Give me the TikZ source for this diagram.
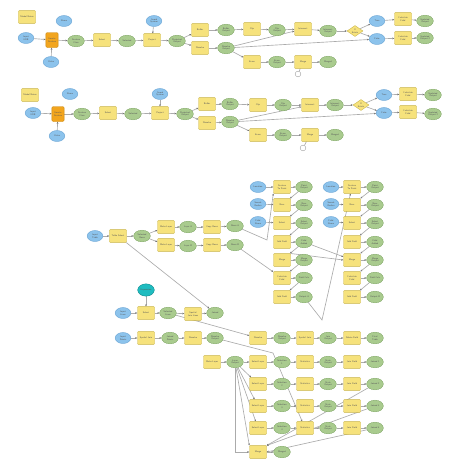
\documentclass[tikz,border=0pt]{standalone}
\usepackage{tikz}
\usetikzlibrary{shapes,arrows.meta,positioning,backgrounds}

\definecolor{toolfill}{HTML}{F6E27C}
\definecolor{toolline}{HTML}{C8B347}
\definecolor{datafill}{HTML}{A9CB8E}
\definecolor{dataline}{HTML}{7EA563}
\definecolor{inputfill}{HTML}{8CC3EC}
\definecolor{inputline}{HTML}{5F9DD0}
\definecolor{iterfill}{HTML}{F2A51E}
\definecolor{iterline}{HTML}{C7850E}
\definecolor{paramfill}{HTML}{1FBCC0}
\definecolor{paramline}{HTML}{14898C}
\definecolor{linkgray}{HTML}{ABABAB}

\begin{document}
\begin{tikzpicture}[
    x=0.03cm, y=-0.03cm,
    nodebase/.style={font=\sffamily\fontsize{2}{2.3}\selectfont, text=black!65, align=center, inner sep=0.4pt, line width=0.3pt},
    tool/.style={nodebase, rectangle, rounded corners=0.6pt, draw=toolline, fill=toolfill, minimum width=0.51cm, minimum height=0.38cm, text width=0.44cm},
    data/.style={nodebase, ellipse, draw=dataline, fill=datafill, minimum width=0.5cm, minimum height=0.35cm, text width=0.32cm},
    inp/.style={nodebase, ellipse, draw=inputline, fill=inputfill, minimum width=0.47cm, minimum height=0.33cm, text width=0.3cm},
    iter/.style={nodebase, rectangle, rounded corners=1.2pt, draw=iterline, fill=iterfill, minimum width=0.37cm, minimum height=0.45cm, text width=0.3cm},
    cond/.style={nodebase, diamond, aspect=1.5, draw=toolline, fill=toolfill, minimum width=0.48cm, minimum height=0.33cm, text width=0.22cm, inner sep=0pt},
    param/.style={nodebase, ellipse, draw=paramline, fill=paramfill, minimum width=0.5cm, minimum height=0.37cm, text width=0.32cm},
    knob/.style={circle, draw=black!40, fill=white, line width=0.3pt, minimum size=0.17cm, inner sep=0pt},
    flow/.style={draw=linkgray, line width=0.55pt, -{Stealth[length=1.8pt,width=1.5pt,color=black!55]}}
]
    \useasboundingbox (0,0) rectangle (451,464);

    % Model 1
    \node[tool] (r1note) at (27,17) {Model Notes};
    \node[inp] (r1in) at (26,38) {Input GDB};
    \node[iter] (r1iter) at (52,40) {Iterate Feature};
    \node[inp] (r1ws) at (64,21) {Name};
    \node[inp] (r1wc) at (51,62) {Value};
    \node[data] (r1d1) at (76,41) {Feature Class};
    \node[tool] (r1t1) at (102,40) {Select};
    \node[data] (r1d2) at (127,41) {Selected};
    \node[tool] (r1t2) at (152,40) {Project};
    \node[inp] (r1cs) at (154,21) {Coord System};
    \node[data] (r1d3) at (177,41) {Projected Output};
    \node[tool] (r1t3) at (200,30) {Buffer};
    \node[tool] (r1t4) at (200,48) {Dissolve};
    \node[data] (r1d4) at (226,30) {Buffer Output};
    \node[data] (r1d5) at (226,48) {Dissolve Output};
    \node[tool] (r1t5) at (252,29) {Clip};
    \node[data] (r1d6) at (277,30) {Clip Output};
    \node[tool] (r1t6) at (303,29) {Intersect};
    \node[data] (r1d7) at (328,31) {Intersect Output};
    \node[cond] (r1if) at (355,31) {If Exists};
    \node[inp] (r1true) at (377,21) {True};
    \node[inp] (r1false) at (377,39) {False};
    \node[tool] (r1t7) at (403,19) {Calculate Field};
    \node[tool] (r1t8) at (403,38) {Calculate Field};
    \node[data] (r1d8) at (425,21) {Updated Output};
    \node[data] (r1d9) at (425,38) {Updated Output 2};
    \node[tool] (r1t9) at (252,62) {Erase};
    \node[data] (r1d10) at (277,62) {Erase Output};
    \node[tool] (r1t10) at (303,62) {Merge};
    \node[data] (r1d11) at (328,62) {Merged};
    \node[knob] (r1knob) at (298,74) {};

    % Model 2
    \node[tool] (r2note) at (30,95) {Model Notes};
    \node[inp] (r2in) at (33,113) {Input GDB};
    \node[iter] (r2iter) at (58,114) {Iterate Feature};
    \node[inp] (r2ws) at (70,94) {Name};
    \node[inp] (r2wc) at (57,136) {Value};
    \node[data] (r2d1) at (82,114) {Feature Class};
    \node[tool] (r2t1) at (108,113) {Select};
    \node[data] (r2d2) at (133,114) {Selected};
    \node[tool] (r2t2) at (160,113) {Project};
    \node[inp] (r2cs) at (160,94) {Coord System};
    \node[data] (r2d3) at (185,114) {Projected Output};
    \node[tool] (r2t3) at (207,104) {Buffer};
    \node[tool] (r2t4) at (207,123) {Dissolve};
    \node[data] (r2d4) at (230,104) {Buffer Output};
    \node[data] (r2d5) at (230,122) {Dissolve Output};
    \node[tool] (r2t5) at (258,105) {Clip};
    \node[data] (r2d6) at (283,105) {Clip Output};
    \node[tool] (r2t6) at (310,105) {Intersect};
    \node[data] (r2d7) at (335,105) {Intersect Output};
    \node[cond] (r2if) at (361,105) {If Exists};
    \node[inp] (r2true) at (384,95) {True};
    \node[inp] (r2false) at (384,113) {False};
    \node[tool] (r2t7) at (408,94) {Calculate Field};
    \node[tool] (r2t8) at (408,112) {Calculate Field};
    \node[data] (r2d8) at (433,95) {Updated Output};
    \node[data] (r2d9) at (433,114) {Updated Output 2};
    \node[tool] (r2t9) at (258,135) {Erase};
    \node[data] (r2d10) at (283,135) {Erase Output};
    \node[tool] (r2t10) at (310,135) {Merge};
    \node[data] (r2d11) at (335,135) {Merged};
    \node[knob] (r2knob) at (303,148) {};

    % Model 3
    \node[inp] (s3in) at (95,236) {Input Table};
    \node[tool] (s3t1) at (118,236) {Table Select};
    \node[data] (s3d1) at (142,236) {Selected Rows};
    \node[tool] (s3t2) at (166,227) {Make Layer};
    \node[tool] (s3t3) at (166,245) {Make Layer};
    \node[data] (s3d2) at (188,227) {Layer A};
    \node[data] (s3d3) at (188,246) {Layer B};
    \node[tool] (s3t4) at (212,227) {Copy Rows};
    \node[tool] (s3t5) at (212,245) {Copy Rows};
    \node[data] (s3d4) at (235,226) {Rows A};
    \node[data] (s3d5) at (235,245) {Rows B};
    \coordinate (s3bend) at (267,240);

    \node[inp] (sAi1) at (258,187) {Location};
    \node[inp] (sAi2) at (258,204) {Search Radius};
    \node[inp] (sAi3) at (258,222) {Field Name};
    \node[tool] (sAt1) at (282,187) {Feature To Point};
    \node[tool] (sAt2) at (282,205) {Near};
    \node[tool] (sAt3) at (282,223) {Select};
    \node[tool] (sAt4) at (282,242) {Add Field};
    \node[tool] (sAt5) at (282,260) {Merge};
    \node[tool] (sAt6) at (282,278) {Calculate Field};
    \node[tool] (sAt7) at (282,297) {Add Field};
    \node[data] (sAd1) at (304,187) {Point Output};
    \node[data] (sAd2) at (304,205) {Near Output};
    \node[data] (sAd3) at (304,223) {Select Output};
    \node[data] (sAd4) at (304,242) {Field Added};
    \node[data] (sAd5) at (304,260) {Merge Output};
    \node[data] (sAd6) at (304,278) {Field Calc};
    \node[data] (sAd7) at (304,297) {Output A};

    \node[inp] (sBi1) at (331,187) {Location};
    \node[inp] (sBi2) at (331,204) {Search Radius};
    \node[inp] (sBi3) at (331,222) {Field Name};
    \node[tool] (sBt1) at (352,187) {Feature To Point};
    \node[tool] (sBt2) at (352,205) {Near};
    \node[tool] (sBt3) at (352,223) {Select};
    \node[tool] (sBt4) at (352,242) {Add Field};
    \node[tool] (sBt5) at (352,260) {Merge};
    \node[tool] (sBt6) at (352,278) {Calculate Field};
    \node[tool] (sBt7) at (352,297) {Add Field};
    \node[data] (sBd1) at (375,187) {Point Output};
    \node[data] (sBd2) at (375,205) {Near Output};
    \node[data] (sBd3) at (375,223) {Select Output};
    \node[data] (sBd4) at (375,242) {Field Added};
    \node[data] (sBd5) at (375,260) {Merge Output};
    \node[data] (sBd6) at (375,278) {Field Calc};
    \node[data] (sBd7) at (375,297) {Output B};
    \coordinate (sVtip) at (322,320);

    % Model 4
    \node[param] (s4par) at (146,290) {Expression};
    \node[inp] (s4in1) at (123,313) {Input Lines};
    \node[tool] (s4t1) at (146,313) {Select};
    \node[data] (s4d1) at (168,313) {Selected Lines};
    \node[tool] (s4t2) at (193,314) {Spatial Join Lines};
    \node[data] (s4d2) at (215,313) {Joined};
    \node[inp] (s4in2) at (123,338) {Input Points};
    \node[tool] (s4t3) at (146,338) {Spatial Join};
    \node[data] (s4d3) at (170,338) {Joined Points};
    \node[tool] (s4t4) at (193,338) {Dissolve};
    \node[data] (s4d4) at (215,338) {Dissolve Output};
    \coordinate (s4bend) at (273,353);

    \node[tool] (g1t1) at (258,338) {Dissolve};
    \node[data] (g1d1) at (282,338) {Dissolve Output};
    \node[tool] (g1t2) at (305,338) {Spatial Join};
    \node[data] (g1d2) at (328,338) {Join Output};
    \node[tool] (g1t3) at (352,338) {Delete Field};
    \node[data] (g1d3) at (375,338) {Final Table};

    \node[tool] (g0t) at (212,362) {Make Layer};
    \node[data] (g0d) at (235,362) {Layer Output};

    \node[tool] (g2t1) at (258,362) {Select Layer};
    \node[data] (g2d1) at (282,362) {Selection 1};
    \node[tool] (g2t2) at (305,362) {Statistics};
    \node[data] (g2d2) at (328,362) {Stats Output};
    \node[tool] (g2t3) at (352,362) {Join Field};
    \node[data] (g2d3) at (375,362) {Joined 1};

    \node[tool] (g3t1) at (258,384) {Select Layer};
    \node[data] (g3d1) at (282,384) {Selection 2};
    \node[tool] (g3t2) at (305,384) {Statistics};
    \node[data] (g3d2) at (328,384) {Stats Output};
    \node[tool] (g3t3) at (352,384) {Join Field};
    \node[data] (g3d3) at (375,384) {Joined 2};

    \node[tool] (g4t1) at (258,406) {Select Layer};
    \node[data] (g4d1) at (282,406) {Selection 3};
    \node[tool] (g4t2) at (305,406) {Statistics};
    \node[data] (g4d2) at (328,406) {Stats Output};
    \node[tool] (g4t3) at (352,406) {Join Field};
    \node[data] (g4d3) at (375,406) {Joined 3};

    \node[tool] (g5t1) at (258,428) {Select Layer};
    \node[data] (g5d1) at (282,428) {Selection 4};
    \node[tool] (g5t2) at (305,428) {Statistics};
    \node[data] (g5d2) at (328,428) {Stats Output};
    \node[tool] (g5t3) at (352,428) {Join Field};
    \node[data] (g5d3) at (375,428) {Joined 4};

    \node[tool] (g6t) at (258,452) {Merge};
    \node[data] (g6d) at (282,452) {Merged};

    % Connectors
    \begin{scope}[on background layer]
        \draw[flow] (r1in) -- (r1iter); \draw[flow] (r1wc) -- (r1iter); \draw[flow] (r1iter) -- (r1d1);
        \draw[flow] (r1d1) -- (r1t1); \draw[flow] (r1t1) -- (r1d2); \draw[flow] (r1d2) -- (r1t2);
        \draw[flow] (r1cs) -- (r1t2); \draw[flow] (r1t2) -- (r1d3);
        \draw[flow] (r1d3) -- (r1t3); \draw[flow] (r1d3) -- (r1t4);
        \draw[flow] (r1t3) -- (r1d4); \draw[flow] (r1t4) -- (r1d5);
        \draw[flow] (r1d4) -- (r1t5); \draw[flow] (r1t5) -- (r1d6); \draw[flow] (r1d6) -- (r1t6);
        \draw[flow] (r1d5) -- (r1t6); \draw[flow] (r1t6) -- (r1d7); \draw[flow] (r1d7) -- (r1if);
        \draw[flow] (r1if) -- (r1true); \draw[flow] (r1if) -- (r1false); \draw[flow] (r1d5) -- (r1false);
        \draw[flow] (r1true) -- (r1t7); \draw[flow] (r1false) -- (r1t8);
        \draw[flow] (r1t7) -- (r1d8); \draw[flow] (r1t8) -- (r1d9);
        \draw[flow] (r1d5) -- (r1t9); \draw[flow] (r1t9) -- (r1d10); \draw[flow] (r1d10) -- (r1t10);
        \draw[flow] (r1t10) -- (r1d11); \draw[draw=linkgray, line width=0.55pt] (r1knob) -- (r1t10);

        \draw[flow] (r2in) -- (r2iter); \draw[flow] (r2wc) -- (r2iter); \draw[flow] (r2iter) -- (r2d1);
        \draw[flow] (r2d1) -- (r2t1); \draw[flow] (r2t1) -- (r2d2); \draw[flow] (r2d2) -- (r2t2);
        \draw[flow] (r2cs) -- (r2t2); \draw[flow] (r2t2) -- (r2d3);
        \draw[flow] (r2d3) -- (r2t3); \draw[flow] (r2d3) -- (r2t4);
        \draw[flow] (r2t3) -- (r2d4); \draw[flow] (r2t4) -- (r2d5);
        \draw[flow] (r2d4) -- (r2t5); \draw[flow] (r2t5) -- (r2d6); \draw[flow] (r2d6) -- (r2t6);
        \draw[flow] (r2d5) -- (r2t6); \draw[flow] (r2t6) -- (r2d7); \draw[flow] (r2d7) -- (r2if);
        \draw[flow] (r2if) -- (r2true); \draw[flow] (r2if) -- (r2false); \draw[flow] (r2d5) -- (r2false);
        \draw[flow] (r2true) -- (r2t7); \draw[flow] (r2false) -- (r2t8);
        \draw[flow] (r2t7) -- (r2d8); \draw[flow] (r2t8) -- (r2d9);
        \draw[flow] (r2d5) -- (r2t9); \draw[flow] (r2t9) -- (r2d10); \draw[flow] (r2d10) -- (r2t10);
        \draw[flow] (r2t10) -- (r2d11); \draw[draw=linkgray, line width=0.55pt] (r2knob) -- (r2t10);

        \draw[flow] (s3in) -- (s3t1); \draw[flow] (s3t1) -- (s3d1);
        \draw[flow] (s3d1) -- (s3t2); \draw[flow] (s3d1) -- (s3t3);
        \draw[flow] (s3t2) -- (s3d2); \draw[flow] (s3t3) -- (s3d3);
        \draw[flow] (s3d2) -- (s3t4); \draw[flow] (s3d3) -- (s3t5);
        \draw[flow] (s3t4) -- (s3d4); \draw[flow] (s3t5) -- (s3d5);
        \draw[flow] (s3d4) -- (s3bend) -- (sAt1.south west); \draw[flow] (s3d5) -- (sAt6);

        \draw[flow] (sAi1) -- (sAt1); \draw[flow] (sAi2) -- (sAt2); \draw[flow] (sAi3) -- (sAt3);
        \draw[flow] (sAt1) -- (sAd1); \draw[flow] (sAt2) -- (sAd2); \draw[flow] (sAt3) -- (sAd3); \draw[flow] (sAt4) -- (sAd4);
        \draw[flow] (sAt5) -- (sAd5); \draw[flow] (sAt6) -- (sAd6); \draw[flow] (sAt7) -- (sAd7);
        \draw[flow] (sAd1) -- (sAt2); \draw[flow] (sAd2) -- (sAt3); \draw[flow] (sAd3) -- (sAt4);
        \draw[flow] (sAd4) -- (sAt5); \draw[flow] (sAd5) -- (sAt6); \draw[flow] (sAd6) -- (sAt7);

        \draw[flow] (sBi1) -- (sBt1); \draw[flow] (sBi2) -- (sBt2); \draw[flow] (sBi3) -- (sBt3);
        \draw[flow] (sBt1) -- (sBd1); \draw[flow] (sBt2) -- (sBd2); \draw[flow] (sBt3) -- (sBd3); \draw[flow] (sBt4) -- (sBd4);
        \draw[flow] (sBt5) -- (sBd5); \draw[flow] (sBt6) -- (sBd6); \draw[flow] (sBt7) -- (sBd7);
        \draw[flow] (sBd1) -- (sBt2); \draw[flow] (sBd2) -- (sBt3); \draw[flow] (sBd3) -- (sBt4);
        \draw[flow] (sBd4) -- (sBt5); \draw[flow] (sBd5) -- (sBt6); \draw[flow] (sBd6) -- (sBt7);

        \draw[flow] (sAd4) -- (sBt5); \draw[flow] (sAt5.north east) -- (sBt5.west);
        \draw[flow] (sAd7) -- (sVtip) -- (sBt1);

        \draw[flow] (s4par) -- (s4t1); \draw[flow] (s4in1) -- (s4t1); \draw[flow] (s4t1) -- (s4d1);
        \draw[flow] (s4d1) -- (s4t2); \draw[flow] (s4t2) -- (s4d2); \draw[flow] (s3t1) -- (s4d2);
        \draw[flow] (s4d1) -- (g1t1);
        \draw[flow] (s4in2) -- (s4t3); \draw[flow] (s4t3) -- (s4d3); \draw[flow] (s4d3) -- (s4t4);
        \draw[flow] (s4t4) -- (s4d4); \draw[flow] (s4d4) -- (s4bend) -- (g5t2);

        \draw[flow] (g1t1) -- (g1d1); \draw[flow] (g1d1) -- (g1t2); \draw[flow] (g1t2) -- (g1d2);
        \draw[flow] (g1d2) -- (g1t3); \draw[flow] (g1t3) -- (g1d3);
        \draw[flow] (g0t) -- (g0d);
        \draw[flow] (g0d) -- (g2t1); \draw[flow] (g0d) -- (g3t1); \draw[flow] (g0d) -- (g4t1);
        \draw[flow] (g0d) -- (g5t1); \draw[flow] (g0d) -- (g6t.north west); \draw[flow] (g0d) |- (g6t);
        \draw[flow] (g2t1) -- (g2d1); \draw[flow] (g2d1) -- (g2t2); \draw[flow] (g2t2) -- (g2d2); \draw[flow] (g2d2) -- (g2t3); \draw[flow] (g2t3) -- (g2d3);
        \draw[flow] (g3t1) -- (g3d1); \draw[flow] (g3d1) -- (g3t2); \draw[flow] (g3t2) -- (g3d2); \draw[flow] (g3d2) -- (g3t3); \draw[flow] (g3t3) -- (g3d3);
        \draw[flow] (g4t1) -- (g4d1); \draw[flow] (g4d1) -- (g4t2); \draw[flow] (g4t2) -- (g4d2); \draw[flow] (g4d2) -- (g4t3); \draw[flow] (g4t3) -- (g4d3);
        \draw[flow] (g5t1) -- (g5d1); \draw[flow] (g5d1) -- (g5t2); \draw[flow] (g5t2) -- (g5d2); \draw[flow] (g5d2) -- (g5t3); \draw[flow] (g5t3) -- (g5d3);
        \draw[flow] (g3d3) -- (g6t.north east); \draw[flow] (g4d3) -- (g6t.north east); \draw[flow] (g5d3) -- (g6t.east);
        \draw[flow] (g6t) -- (g6d);
    \end{scope}
\end{tikzpicture}
\end{document}
